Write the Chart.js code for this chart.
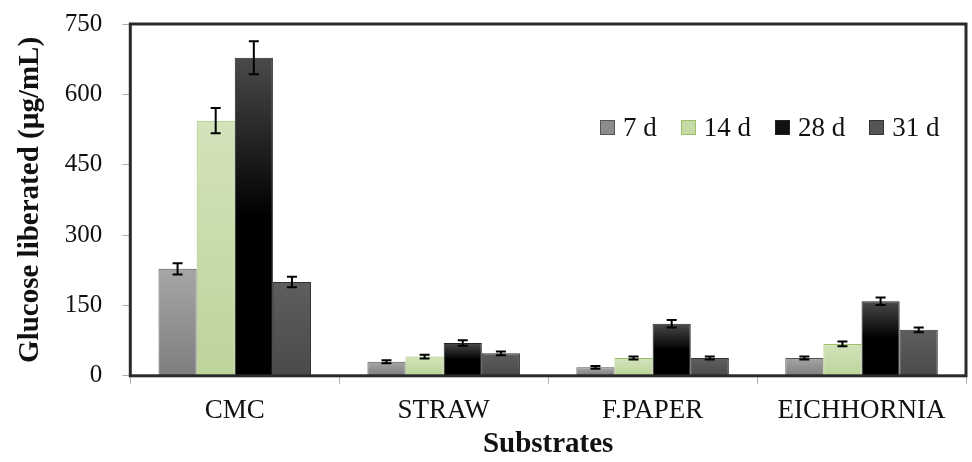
<!DOCTYPE html>
<html>
<head>
<meta charset="utf-8">
<script src="https://cdn.jsdelivr.net/npm/chart.js@4/dist/chart.umd.min.js"></script>
<style>
  html, body { margin: 0; padding: 0; background: #fff; }
  #wrap { position: relative; width: 972px; height: 462px; }
  #legend { position: absolute; left: 600px; top: 112px; display: flex; font-family: "Liberation Serif", serif; font-size: 27px; color: #111; }
  #legend span.item { display: flex; align-items: center; margin-right: 24px; }
  #legend span.box { width: 13px; height: 13px; margin-right: 8px; border: 1px solid #444; }
</style>
</head>
<body>
<div id="wrap">
  <canvas id="chart" width="972" height="462"></canvas>
  <div id="legend"></div>
</div>
<script>
const substrates = ["CMC", "STRAW", "F.PAPER", "EICHHORNIA"];
const seriesNames = ["7 d", "14 d", "28 d", "31 d"];

const d7 = [228, 30, 18, 38];
const d14 = [544, 41, 38, 68];
const d28 = [678, 70, 111, 159];
const d31 = [200, 48, 38, 98];

const err7 = [12, 3, 3, 3];
const err14 = [27, 4, 3, 5];
const err28 = [35, 6, 8, 8];
const err31 = [11, 4, 3, 5];

const yTicks = [0, 150, 300, 450, 600, 750];

const colors = [
    {top: "#a6a6a6", bottom: "#7e7e7e", border: "#555555", box: "#8c8c8c"},
    {top: "#d3e3bb", bottom: "#bcd49a", border: "#9cc06a", box: "#c5dba5"},
    {top: "#4a4a4a", bottom: "#000000", border: "#222222", box: "#111111"},
    {top: "#5e5e5e", bottom: "#4a4a4a", border: "#333333", box: "#555555"}
];

function gradientFor(i) {
    return function (ctx) {
        const chart = ctx.chart;
        const c = colors[i];
        if (!chart.chartArea || ctx.raw === undefined) return c.box;
        const y = chart.scales.y;
        const top = y.getPixelForValue(ctx.raw);
        const bottom = y.getPixelForValue(0);
        const g = chart.ctx.createLinearGradient(0, top, 0, bottom);
        g.addColorStop(0, c.top);
        g.addColorStop(i === 2 ? 0.5 : 1, c.bottom);
        g.addColorStop(1, c.bottom);
        return g;
    };
}

const values = [d7, d14, d28, d31];
const errors = [err7, err14, err28, err31];

const errorBars = {
    id: "errorBars",
    afterDatasetsDraw(chart) {
        const ctx = chart.ctx;
        const y = chart.scales.y;
        ctx.save();
        ctx.strokeStyle = "#000";
        ctx.lineWidth = 2;
        chart.data.datasets.forEach((ds, di) => {
            const meta = chart.getDatasetMeta(di);
            meta.data.forEach((bar, i) => {
                const v = ds.data[i];
                const e = errors[di][i];
                const yHi = y.getPixelForValue(v + e);
                const yLo = y.getPixelForValue(v - e);
                const x = bar.x;
                ctx.beginPath();
                ctx.moveTo(x, yHi); ctx.lineTo(x, yLo);
                ctx.moveTo(x - 5, yHi); ctx.lineTo(x + 5, yHi);
                ctx.moveTo(x - 5, yLo); ctx.lineTo(x + 5, yLo);
                ctx.stroke();
            });
        });
        ctx.restore();
    }
};

const frame = {
    id: "frame",
    afterDraw(chart) {
        const a = chart.chartArea;
        const ctx = chart.ctx;
        ctx.save();
        ctx.strokeStyle = "#2a2a2a";
        ctx.lineWidth = 3;
        ctx.strokeRect(a.left, a.top, a.right - a.left, a.bottom - a.top);
        ctx.restore();
    }
};

new Chart(document.getElementById("chart"), {
    type: "bar",
    data: {
        labels: substrates,
        datasets: seriesNames.map((name, i) => ({
            label: name,
            data: values[i],
            backgroundColor: gradientFor(i),
            borderColor: colors[i].border,
            borderWidth: 1,
            barPercentage: 1,
            categoryPercentage: 0.73
        }))
    },
    options: {
        responsive: false,
        animation: false,
        layout: {padding: {top: 24, right: 6, left: 13, bottom: 0}},
        plugins: {legend: {display: false}, tooltip: {enabled: false}},
        scales: {
            x: {
                grid: {drawOnChartArea: false, offset: true, tickLength: 8, color: "#b0b0b0"},
                border: {display: false},
                ticks: {font: {family: "Liberation Serif", size: 27}, color: "#111", padding: 11},
                title: {display: true, text: "Substrates", font: {family: "Liberation Serif", size: 29, weight: "bold"}, color: "#111", padding: {top: -11, bottom: 0}}
            },
            y: {
                min: 0,
                max: 750,
                afterBuildTicks: axis => { axis.ticks = yTicks.map(v => ({value: v})); },
                afterFit: axis => { axis.paddingTop = 0; axis.paddingBottom = 0; },
                grid: {drawOnChartArea: false, tickLength: 8, color: "#b0b0b0"},
                border: {display: false},
                ticks: {font: {family: "Liberation Serif", size: 25}, color: "#111", padding: 20},
                title: {display: true, text: "Glucose liberated (µg/mL)", font: {family: "Liberation Serif", size: 29, weight: "bold"}, color: "#111", padding: {top: 0, bottom: -3}}
            }
        }
    },
    plugins: [errorBars, frame]
});

const legend = document.getElementById("legend");
seriesNames.forEach((name, i) => {
    const item = document.createElement("span");
    item.className = "item";
    const box = document.createElement("span");
    box.className = "box";
    box.style.background = colors[i].box;
    box.style.borderColor = colors[i].border;
    item.appendChild(box);
    item.appendChild(document.createTextNode(name));
    legend.appendChild(item);
});
</script>
</body>
</html>
